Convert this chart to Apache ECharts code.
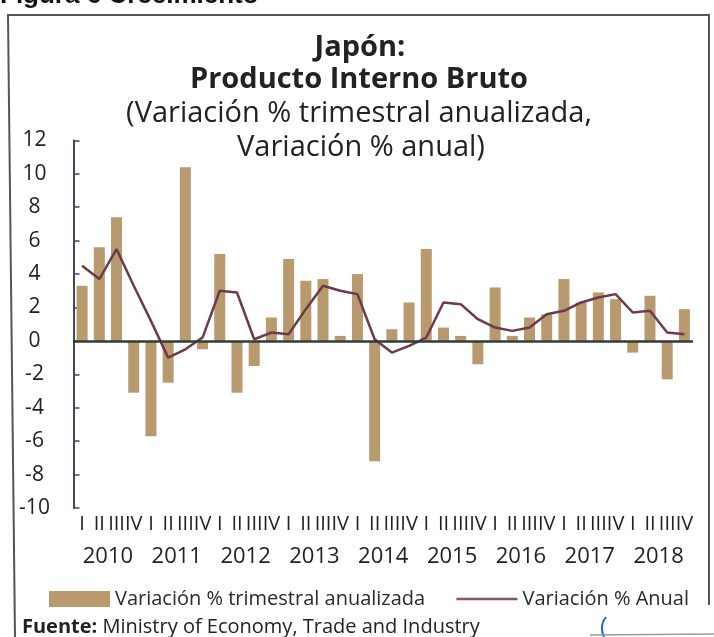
<!DOCTYPE html>
<html>
<head>
<meta charset="utf-8">
<script src="https://cdn.jsdelivr.net/npm/echarts@6/dist/echarts.min.js"></script>
<style>
html,body{margin:0;padding:0;background:#fff;}
#chart{width:714px;height:637px;}
</style>
</head>
<body>
<div id="chart"></div>
<script>
const quarters = ['I','II','III','IV','I','II','III','IV','I','II','III','IV','I','II','III','IV','I','II','III','IV','I','II','III','IV','I','II','III','IV','I','II','III','IV','I','II','III','IV'];
const years = ['2010','2011','2012','2013','2014','2015','2016','2017','2018'];
const trimestral = [3.3, 5.6, 7.4, -3.1, -5.7, -2.5, 10.4, -0.5, 5.2, -3.1, -1.5, 1.4, 4.9, 3.6, 3.7, 0.3, 4.0, -7.2, 0.7, 2.3, 5.5, 0.8, 0.3, -1.4, 3.2, 0.3, 1.4, 1.6, 3.7, 2.3, 2.9, 2.5, -0.7, 2.7, -2.3, 1.9];
const anual = [4.5, 3.7, 5.5, 3.3, 1.2, -1.0, -0.5, 0.2, 3.0, 2.9, 0.1, 0.5, 0.4, 1.9, 3.3, 3.0, 2.8, 0.1, -0.7, -0.3, 0.2, 2.3, 2.2, 1.3, 0.8, 0.6, 0.8, 1.6, 1.8, 2.3, 2.6, 2.8, 1.7, 1.8, 0.5, 0.4];
const yTicks = {min: -10, max: 12, interval: 2};

const FONT = '"Open Sans", "Noto Sans", sans-serif';
const chart = echarts.init(document.getElementById('chart'), null, {renderer: 'canvas'});
chart.setOption({
  animation: false,
  backgroundColor: '#ffffff',
  textStyle: {fontFamily: FONT},
  grid: {left: 73.5, right: 21, top: 140.4, bottom: 129, containLabel: false},
  legend: {
    left: 49, top: 589, padding: 0,
    itemWidth: 61, itemHeight: 16, itemGap: 30,
    textStyle: {fontFamily: FONT, fontSize: 20, color: '#2a2a2a'},
    data: [
      {name: 'Variación % trimestral anualizada', icon: 'rect'},
      {name: 'Variación % Anual', itemStyle: {opacity: 0}, lineStyle: {color: '#8a5566', width: 2.5}}
    ]
  },
  xAxis: [
    {
      type: 'category', data: quarters, position: 'bottom',
      axisLine: {show: false, onZero: false}, axisTick: {show: false},
      axisLabel: {interval: 0, margin: 6, fontSize: 20, color: '#222', fontFamily: FONT}
    },
    {
      type: 'category', data: years, position: 'bottom', offset: 33,
      axisLine: {show: false, onZero: false}, axisTick: {show: false},
      axisLabel: {interval: 0, margin: 5, fontSize: 22, color: '#222', fontFamily: FONT}
    }
  ],
  yAxis: {
    type: 'value', min: yTicks.min, max: yTicks.max, interval: yTicks.interval,
    splitLine: {show: false},
    axisLine: {show: true, lineStyle: {color: '#3e4a56', width: 2}},
    axisTick: {show: true, inside: true, length: 6, lineStyle: {color: '#3e4a56', width: 1.5}},
    axisLabel: {margin: 39, align: 'center', fontSize: 21, color: '#222', fontFamily: FONT}
  },
  series: [
    {
      name: 'Variación % trimestral anualizada', type: 'bar', xAxisIndex: 0,
      data: trimestral, barWidth: 11,
      itemStyle: {color: '#b89a6e'}, z: 2
    },
    {
      name: 'Variación % Anual', type: 'line', xAxisIndex: 0,
      data: anual, symbol: 'none',
      lineStyle: {color: '#6e3a4b', width: 2.5},
      itemStyle: {color: '#7d4a5a'}, z: 4,
      markLine: {
        silent: true, symbol: 'none',
        label: {show: false},
        lineStyle: {color: '#2f3d3a', width: 2.5, type: 'solid'},
        data: [{yAxis: 0}]
      }
    }
  ],
  graphic: [
    {type: 'text', left: 0, top: -17, style: {text: 'Figura 6 Crecimiento', font: 'bold 26px "Liberation Sans", Arial, sans-serif', fill: '#111'}},
    {type: 'polyline', shape: {points: [[15, 637], [8, 15], [709, 15], [709, 605]]}, style: {stroke: '#555', lineWidth: 2, fill: null}},
    {type: 'text', x: 360, y: 48, style: {text: 'Japón:', font: 'bold 29px ' + FONT, fill: '#222', textAlign: 'center', textVerticalAlign: 'middle'}},
    {type: 'text', x: 359, y: 80, style: {text: 'Producto Interno Bruto', font: 'bold 29px ' + FONT, fill: '#222', textAlign: 'center', textVerticalAlign: 'middle'}},
    {type: 'text', x: 359, y: 114, style: {text: '(Variación % trimestral anualizada,', font: '29px ' + FONT, fill: '#222', textAlign: 'center', textVerticalAlign: 'middle'}},
    {type: 'text', x: 361, y: 148, style: {text: 'Variación % anual)', font: '29px ' + FONT, fill: '#222', textAlign: 'center', textVerticalAlign: 'middle'}},
    {type: 'text', x: 22, y: 627, style: {
      text: '{b|Fuente:} Ministry of Economy, Trade and Industry',
      font: '20px ' + FONT, fill: '#222', textVerticalAlign: 'middle',
      rich: {b: {fontWeight: 'bold', fontSize: 20, fontFamily: FONT, fill: '#222'}}
    }},
    {type: 'bezierCurve', shape: {x1: 606, y1: 617, x2: 604, y2: 637, cpx1: 599, cpy1: 626}, style: {stroke: '#2c5fc4', lineWidth: 2, fill: null}},
    {type: 'line', shape: {x1: 590, y1: 635, x2: 714, y2: 634}, style: {stroke: '#9a9a9a', lineWidth: 1.5}}
  ]
});
</script>
</body>
</html>
